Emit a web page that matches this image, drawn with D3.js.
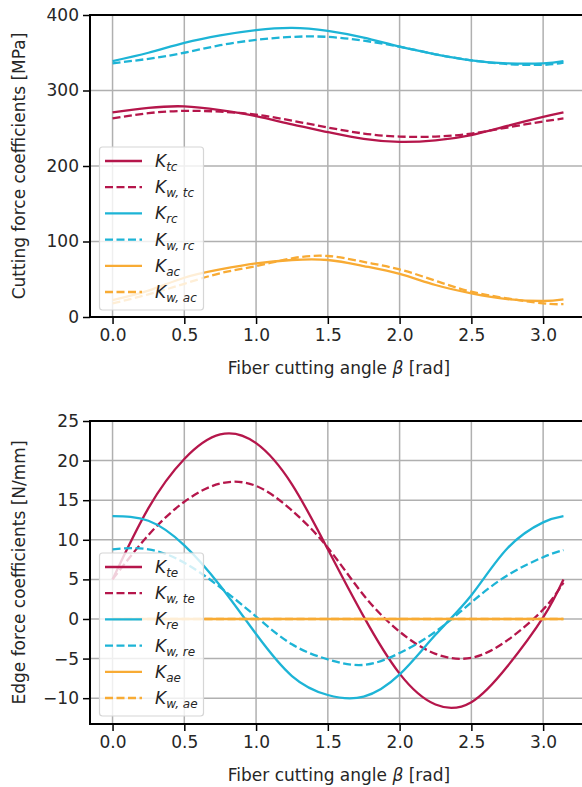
<!DOCTYPE html>
<meta charset="utf-8">
<title>Force coefficients</title>
<style>
    body { margin: 0; background: #fff; }
    text { font-family: "DejaVu Sans", sans-serif; fill: #262626; }
    .grid line { stroke: #b0b0b0; stroke-width: 1.5px; }
    .curve { fill: none; stroke-width: 2.3px; }
</style>
<body>
<div id="chart"></div>
<script src="https://d3js.org/d3.v7.min.js"></script>
<script>

    // sample angles (rad)
    var beta = [0, 0.25, 0.5, 0.75, 1.0, 1.25, 1.5, 1.75, 2.0, 2.25, 2.5, 2.75, 3.0, Math.PI];

    // cutting force coefficients [MPa]
    var Ktc  = [271, 277, 279, 274, 266, 255, 245, 236, 232, 234, 241, 253, 265, 271];
    var Kwtc = [263, 270, 273, 272, 268, 260, 251, 243, 239, 239, 243, 251, 259, 263];
    var Krc  = [339, 350, 363, 373, 380, 383, 379, 370, 358, 348, 340, 336, 336, 339];
    var Kwrc = [336, 342, 350, 360, 367, 371, 371, 366, 358, 348, 340, 335, 334, 337];
    var Kac  = [22.5, 35, 52, 63, 71, 75.5, 75.5, 67.5, 57, 42.4, 31.4, 23.8, 21.2, 23.4];
    var Kwac = [18, 30, 44, 58, 67.5, 77.7, 80.8, 73, 63, 48, 33.5, 24.7, 18, 17];

    // edge force coefficients [N/mm]
    var Kte  = [5.0, 14.0, 20.2, 23.3, 22.2, 17.0, 8.8, 0.3, -6.9, -10.8, -10.5, -6.0, 0.2, 5.0];
    var Kwte = [5.0, 10.6, 14.8, 17.1, 16.8, 13.7, 9.0, 3.0, -1.6, -4.4, -4.9, -2.7, 1.2, 4.6];
    var Kre  = [13.0, 12.4, 9.3, 4.2, -1.9, -7.2, -9.6, -9.8, -7.0, -2.0, 3.0, 8.9, 12.2, 13.0];
    var Kwre = [8.8, 8.8, 7.1, 4.0, 0.3, -3.2, -5.1, -5.8, -4.3, -1.6, 2.1, 5.5, 7.8, 8.7];
    var Kae  = [0, 0, 0, 0, 0, 0, 0, 0, 0, 0, 0, 0, 0, 0];
    var Kwae = [0, 0, 0, 0, 0, 0, 0, 0, 0, 0, 0, 0, 0, 0];

    var xTicks = [0, 0.5, 1.0, 1.5, 2.0, 2.5, 3.0];
    var topTicks = [0, 100, 200, 300, 400];
    var bottomTicks = [-10, -5, 0, 5, 10, 15, 20, 25];

    var crimson = "#b5164b", cyan = "#1db4d6", orange = "#f8ab34";

    var svg = d3.select("#chart").append("svg")
        .attr("width", 582)
        .attr("height", 787);

    // x range: matplotlib default 5% margins around [0, pi]
    var xDomain = [-0.05 * Math.PI, 1.05 * Math.PI];

    function drawPanel(p) {
        var x = d3.scaleLinear().domain(xDomain).range([90, 586]);
        var y = d3.scaleLinear().domain(p.yDomain).range([p.bottom, p.top]);

        var g = svg.append("g");

        // grid
        var grid = g.append("g").attr("class", "grid");
        grid.selectAll(".vx").data(xTicks).enter().append("line")
            .attr("x1", function (d) { return x(d); })
            .attr("x2", function (d) { return x(d); })
            .attr("y1", p.top).attr("y2", p.bottom);
        grid.selectAll(".hy").data(p.yTicks).enter().append("line")
            .attr("x1", 90).attr("x2", 586)
            .attr("y1", function (d) { return y(d); })
            .attr("y2", function (d) { return y(d); });

        // curves
        var line = d3.line()
            .x(function (d) { return x(d[0]); })
            .y(function (d) { return y(d[1]); })
            .curve(d3.curveNatural);

        p.series.forEach(function (s) {
            g.append("path")
                .datum(beta.map(function (b, i) { return [b, s.values[i]]; }))
                .attr("class", "curve")
                .attr("stroke", s.color)
                .attr("stroke-dasharray", s.dashed ? "8,3.5" : null)
                .attr("d", line);
        });

        // axes
        var xAxis = g.append("g")
            .attr("transform", "translate(0," + p.bottom + ")")
            .call(d3.axisBottom(x).tickValues(xTicks).tickFormat(d3.format(".1f")).tickSize(7).tickPadding(5));
        var yAxis = g.append("g")
            .attr("transform", "translate(90,0)")
            .call(d3.axisLeft(y).tickValues(p.yTicks).tickFormat(d3.format("d")).tickSize(7).tickPadding(4));

        [xAxis, yAxis].forEach(function (a) {
            a.select(".domain").remove();
            a.selectAll(".tick line").attr("stroke", "#000").attr("stroke-width", 1.5);
            a.selectAll(".tick text").attr("font-size", "17px").attr("fill", "#262626")
                .attr("font-family", "DejaVu Sans");
        });

        // spines (left, bottom, top; right falls outside the picture)
        g.append("path")
            .attr("d", "M586," + p.top + "H90V" + p.bottom + "H586")
            .attr("fill", "none")
            .attr("stroke", "#000")
            .attr("stroke-width", 2);

        // axis labels
        var xl = g.append("text")
            .attr("x", 339)
            .attr("y", p.bottom + 57)
            .attr("text-anchor", "middle")
            .attr("font-size", "17px");
        xl.append("tspan").text("Fiber cutting angle ");
        xl.append("tspan").attr("font-style", "italic").text("β");
        xl.append("tspan").text(" [rad]");

        g.append("text")
            .attr("transform", "translate(25," + ((p.top + p.bottom) / 2) + ") rotate(-90)")
            .attr("text-anchor", "middle")
            .attr("font-size", "17px")
            .text(p.yLabel);

        // legend
        var lg = g.append("g");
        lg.append("rect")
            .attr("x", 99.5).attr("y", p.legendTop)
            .attr("width", 104).attr("height", 163)
            .attr("rx", 3)
            .attr("fill", "#fff").attr("fill-opacity", 0.8)
            .attr("stroke", "#d6d6d6").attr("stroke-width", 1.2);

        p.series.forEach(function (s, i) {
            var yy = p.legendTop + 14 + i * 26.2;
            lg.append("line")
                .attr("x1", 105).attr("x2", 142)
                .attr("y1", yy).attr("y2", yy)
                .attr("stroke", s.color)
                .attr("stroke-width", 2.3)
                .attr("stroke-dasharray", s.dashed ? "8,3.5" : null);
            var t = lg.append("text")
                .attr("x", 155).attr("y", yy + 6)
                .attr("font-size", "17px")
                .attr("font-style", "italic");
            t.append("tspan").text("K");
            t.append("tspan")
                .attr("font-size", "12px")
                .attr("dy", 4)
                .text(s.sub);
        });
    }

    drawPanel({
        top: 15, bottom: 317,
        yDomain: [0, 400],
        yTicks: topTicks,
        yLabel: "Cutting force coefficients [MPa]",
        legendTop: 147,
        series: [
            { values: Ktc, color: crimson, dashed: false, sub: "tc" },
            { values: Kwtc, color: crimson, dashed: true, sub: "w, tc" },
            { values: Krc, color: cyan, dashed: false, sub: "rc" },
            { values: Kwrc, color: cyan, dashed: true, sub: "w, rc" },
            { values: Kac, color: orange, dashed: false, sub: "ac" },
            { values: Kwac, color: orange, dashed: true, sub: "w, ac" }
        ]
    });

    drawPanel({
        top: 421, bottom: 724,
        yDomain: [-13.26, 25],
        yTicks: bottomTicks,
        yLabel: "Edge force coefficients [N/mm]",
        legendTop: 553,
        series: [
            { values: Kte, color: crimson, dashed: false, sub: "te" },
            { values: Kwte, color: crimson, dashed: true, sub: "w, te" },
            { values: Kre, color: cyan, dashed: false, sub: "re" },
            { values: Kwre, color: cyan, dashed: true, sub: "w, re" },
            { values: Kae, color: orange, dashed: false, sub: "ae" },
            { values: Kwae, color: orange, dashed: true, sub: "w, ae" }
        ]
    });

</script>
</body>
